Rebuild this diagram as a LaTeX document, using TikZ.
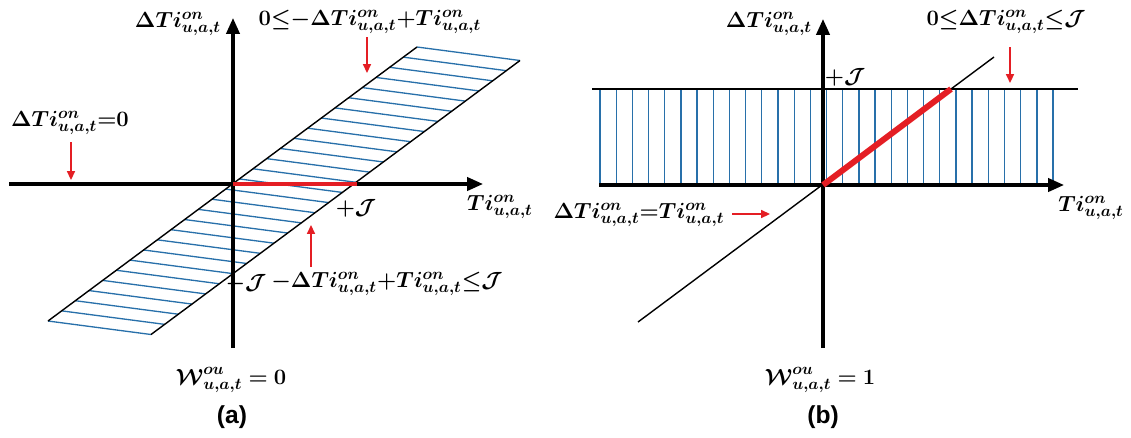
\RequirePackage{fix-cm}
\documentclass[tikz,border=0pt]{standalone}
\usepackage{amsmath,bm}
\usepackage[no-math]{fontspec}
\newfontfamily\capfont{Liberation Sans}
\usetikzlibrary{arrows.meta,calc}
\DeclareMathSizes{12.5}{12.5}{9.2}{7}
\definecolor{hatchc}{RGB}{40,112,170}
\definecolor{redc}{RGB}{228,30,36}
\tikzset{
  axisline/.style={line width=1.8pt,-{Triangle[length=9pt,width=7.5pt]}},
  plainaxis/.style={line width=1.8pt},
  edgeline/.style={line width=0.8pt,black},
  hatchline/.style={line width=0.75pt,hatchc},
  redseg/.style={line width=2.6pt,redc},
  redthick/.style={line width=3.4pt,redc},
  redarrow/.style={line width=0.9pt,redc,-{Triangle[length=5pt,width=4.5pt]}},
  lab/.style={inner sep=0pt},
  caplab/.style={inner sep=0pt,font=\fontsize{14}{17}\selectfont\capfont\bfseries}
}
\begin{document}
\begin{tikzpicture}[x=0.02cm,y=-0.02cm,font=\fontsize{12.5}{15}\selectfont]
\useasboundingbox (0,0) rectangle (1131,437);
% ---------------- panel (a) ----------------
\coordinate (aO) at (233,184);
\coordinate (aXl) at (9,184);
\coordinate (aXr) at (483,184);
\coordinate (aYt) at (233,18);
\coordinate (aYb) at (233,348);
\coordinate (aJ) at (357,184);
\coordinate (aLb) at (48,321);
\coordinate (aLt) at (417,47);
\coordinate (aRb) at (151,334.5);
\coordinate (aRt) at (520,60.5);
\foreach \i in {0,...,27}{
  \draw[hatchline] ($(aLb)!\i/27!(aLt)$) -- ($(aRb)!\i/27!(aRt)$);
}
\draw[edgeline] (aLb) -- (aLt);
\draw[edgeline] (aRb) -- (aRt);
\draw[plainaxis] (aXl) -- (aO);
\draw[axisline] (aO) -- (aXr);
\draw[axisline] (aYb) -- (aYt);
\draw[redseg] (aO) -- (aJ);

\node[lab] (aylab) at (178,24) {$\bm{\Delta Ti^{on}_{u,a,t}}$};
\node[lab] (atop) at (370,22) {$\mathbf{0}\bm{{\leq}{-}\Delta Ti^{on}_{u,a,t}{+}Ti^{on}_{u,a,t}}$};
\coordinate (atopA) at (367,37);
\coordinate (atopB) at (367,73);
\draw[redarrow] (atopA) -- (atopB);
\node[lab] (aleft) at (70,123) {$\bm{\Delta Ti^{on}_{u,a,t}{=}}\mathbf{0}$};
\coordinate (aleftA) at (71,142);
\coordinate (aleftB) at (71,180);
\draw[redarrow] (aleftA) -- (aleftB);
\node[lab] (apj) at (356,208) {$\bm{+\mathcal{J}}$};
\node[lab] (aTi) at (500,207) {$\bm{Ti^{on}_{u,a,t}}$};
\coordinate (aupA) at (311,267);
\coordinate (aupB) at (311,225);
\draw[redarrow] (aupA) -- (aupB);
\node[lab] (amj) at (246,283) {$\bm{-\mathcal{J}}$};
\node[lab] (abot) at (387,284) {$\bm{-\Delta Ti^{on}_{u,a,t}{+}Ti^{on}_{u,a,t}{\leq}\mathcal{J}}$};
\node[lab] (aW) at (231,380) {$\bm{\mathcal{W}^{ou}_{u,a,t} =} \mathbf{0}$};
\node[caplab] (acap) at (232,417) {(a)};

% ---------------- panel (b) ----------------
\coordinate (bO) at (823,185);
\coordinate (bXl) at (599,185);
\coordinate (bXr) at (1064,185);
\coordinate (bYt) at (823,19);
\coordinate (bYb) at (823,348);
\coordinate (bTl) at (592,89);
\coordinate (bTr) at (1078,89);
\coordinate (bDl) at (638,322);
\coordinate (bDr) at (994,57);
\coordinate (bJ) at (951,89);
\foreach \k in {0,...,28}{
  \draw[hatchline] ({600+\k*16.18},89) -- ({600+\k*16.18},185);
}
\draw[edgeline] (bTl) -- (bTr);
\draw[edgeline] (bDl) -- (bDr);
\draw[plainaxis] (bXl) -- (bO);
\draw[axisline] (bO) -- (bXr);
\draw[axisline] (bYb) -- (bYt);
\draw[redthick] (bO) -- (bJ);

\node[lab] (bylab) at (769,24) {$\bm{\Delta Ti^{on}_{u,a,t}}$};
\node[lab] (btop) at (1006,22) {$\mathbf{0}\bm{{\leq}\Delta Ti^{on}_{u,a,t}{\leq}\mathcal{J}}$};
\coordinate (btopA) at (1010,47);
\coordinate (btopB) at (1010,83);
\draw[redarrow] (btopA) -- (btopB);
\node[lab] (bpj) at (845,77) {$\bm{+\mathcal{J}}$};
\node[lab] (bTi) at (1091,208) {$\bm{Ti^{on}_{u,a,t}}$};
\node[lab] (bleft) at (639,215) {$\bm{\Delta Ti^{on}_{u,a,t}{=}Ti^{on}_{u,a,t}}$};
\coordinate (bleftA) at (732,214);
\coordinate (bleftB) at (770,214);
\draw[redarrow] (bleftA) -- (bleftB);
\node[lab] (bW) at (820,380) {$\bm{\mathcal{W}^{ou}_{u,a,t} =} \mathbf{1}$};
\node[caplab] (bcap) at (823,417) {(b)};
\end{tikzpicture}
\end{document}
